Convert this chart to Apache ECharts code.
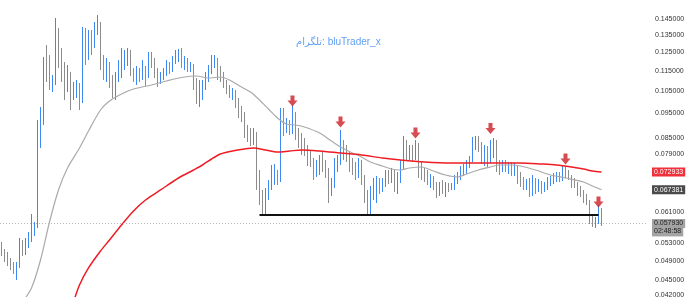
<!DOCTYPE html>
<html>
<head>
<meta charset="utf-8">
<script src="https://cdn.jsdelivr.net/npm/echarts@6/dist/echarts.min.js"></script>
<style>
html,body{margin:0;padding:0;background:#fff;}
#chart{width:690px;height:297px;}
</style>
</head>
<body>
<div id="chart"></div>
<script>
// ---- data ----
const slotCount = 216; // category slots (candles + empty right margin)
const categories = Array.from({length: slotCount}, (_, i) => String(i));

// [open, close, low, high]
const candles = [
[0.05258,0.05096,0.05005,0.05330],[0.05096,0.05005,0.04872,0.05164],[0.05005,0.04916,0.04785,0.05096],[0.04916,0.04785,0.04700,0.04960],
[0.04785,0.04700,0.04616,0.04872],[0.04700,0.04785,0.04494,0.04872],[0.04785,0.05258,0.04743,0.05426],[0.05258,0.05096,0.05005,0.05378],
[0.05096,0.05282,0.05027,0.05426],[0.05282,0.05426,0.05188,0.05574],[0.05426,0.05574,0.05330,0.06043],[0.05574,0.05726,0.05475,0.05830],
[0.05726,0.09011,0.05675,0.09215],[0.09011,0.09132,0.08126,0.09769],[0.09132,0.11690,0.09011,0.12227],[0.11690,0.11430,0.10929,0.12903],
[0.11430,0.10783,0.10543,0.12337],[0.10783,0.11027,0.10449,0.11277],[0.11027,0.13678,0.10783,0.14566],[0.13678,0.12337,0.11637,0.13926],
[0.12337,0.11533,0.10929,0.12731],[0.11533,0.11027,0.10080,0.11955],[0.11027,0.11277,0.10449,0.11795],[0.11277,0.10309,0.09638,0.11430],
[0.10309,0.10638,0.10080,0.10929],[0.10638,0.10783,0.10171,0.11027],[0.10783,0.10080,0.09638,0.10880],[0.10080,0.13495,0.09945,0.13989],
[0.13495,0.12903,0.11795,0.13926],[0.12903,0.13196,0.12063,0.13802],[0.13196,0.12903,0.12337,0.13802],[0.12903,0.13802,0.12731,0.14306],
[0.13802,0.14115,0.13495,0.14763],[0.14115,0.12063,0.11533,0.14306],[0.12063,0.11430,0.11027,0.12337],[0.11430,0.11637,0.10929,0.12172],
[0.11637,0.11027,0.10638,0.11955],[0.11027,0.10734,0.10171,0.11277],[0.10734,0.11126,0.10080,0.11430],[0.11126,0.11430,0.10929,0.12063],
[0.11430,0.11795,0.11126,0.12731],[0.11795,0.12172,0.11533,0.12617],[0.12172,0.12448,0.11742,0.12731],[0.12448,0.11430,0.11227,0.12617],
[0.11430,0.11126,0.10929,0.11637],[0.11126,0.11430,0.10783,0.11742],[0.11430,0.11227,0.10929,0.11637],[0.11227,0.11533,0.11027,0.12063],
[0.11533,0.11277,0.10734,0.11742],[0.11277,0.12227,0.11126,0.12504],[0.12227,0.12063,0.11637,0.12504],[0.12063,0.11430,0.11126,0.12172],
[0.11430,0.11027,0.10686,0.11637],[0.11027,0.11126,0.10831,0.11430],[0.11126,0.11430,0.11027,0.11637],[0.11430,0.11637,0.11227,0.12063],
[0.11637,0.11533,0.11328,0.11955],[0.11533,0.12063,0.11430,0.12282],[0.12063,0.12337,0.11848,0.12617],[0.12337,0.12504,0.11955,0.12674],
[0.12504,0.11848,0.11637,0.12731],[0.11848,0.11955,0.11533,0.12282],[0.11955,0.11637,0.11430,0.12172],[0.11637,0.11742,0.11430,0.11955],
[0.11742,0.10929,0.10543,0.11848],[0.10929,0.10263,0.09901,0.11126],[0.10263,0.10449,0.09769,0.11027],[0.10449,0.10734,0.10080,0.11027],
[0.10734,0.11126,0.10543,0.11430],[0.11126,0.11533,0.10929,0.11795],[0.11533,0.11955,0.11328,0.12337],[0.11955,0.12063,0.11637,0.12337],
[0.12063,0.11533,0.11027,0.12172],[0.11533,0.11227,0.10929,0.11742],[0.11227,0.10831,0.10638,0.11430],[0.10831,0.10638,0.10356,0.11027],
[0.10638,0.10356,0.10171,0.10783],[0.10356,0.10449,0.10080,0.10638],[0.10449,0.10080,0.09725,0.10543],[0.10080,0.09552,0.09298,0.10171],
[0.09552,0.09298,0.09132,0.09813],[0.09298,0.08811,0.08500,0.09552],[0.08811,0.08654,0.08348,0.09011],[0.08654,0.08424,0.08200,0.08890],
[0.08424,0.08654,0.08237,0.08890],[0.08654,0.07103,0.06731,0.08732],[0.07103,0.06552,0.06292,0.07363],[0.06552,0.06153,0.06016,0.06731],
[0.06153,0.06581,0.06016,0.06791],[0.06581,0.06852,0.06435,0.07039],[0.06852,0.07103,0.06731,0.07530],[0.07103,0.07167,0.06883,0.07564],
[0.07167,0.07039,0.06883,0.07363],[0.07039,0.09298,0.06976,0.09725],[0.09298,0.08890,0.08576,0.09725],[0.08890,0.09051,0.08693,0.09298],
[0.09051,0.08811,0.08615,0.09215],[0.08811,0.09424,0.08654,0.09857],[0.09424,0.08615,0.08424,0.09552],[0.08615,0.08500,0.08126,0.08890],
[0.08500,0.08237,0.07875,0.08693],[0.08237,0.08054,0.07840,0.08500],[0.08054,0.07770,0.07496,0.08237],[0.07770,0.07632,0.07463,0.08054],
[0.07632,0.07363,0.07039,0.07770],[0.07363,0.07496,0.07135,0.07701],[0.07496,0.07701,0.07199,0.07875],[0.07701,0.07530,0.07297,0.07982],
[0.07530,0.07297,0.07103,0.07701],[0.07297,0.06731,0.06349,0.07429],[0.06731,0.06883,0.06552,0.07103],[0.06883,0.07496,0.06791,0.07770],
[0.07496,0.07632,0.07297,0.07875],[0.07632,0.08237,0.07530,0.08811],[0.08237,0.07982,0.07701,0.08424],[0.07982,0.07770,0.07632,0.08237],
[0.07770,0.07632,0.07297,0.07982],[0.07632,0.07429,0.07199,0.07770],[0.07429,0.07297,0.07039,0.07632],[0.07297,0.07530,0.07103,0.07770],
[0.07530,0.07103,0.06883,0.07701],[0.07103,0.06581,0.06349,0.07199],[0.06581,0.06208,0.06016,0.06731],[0.06208,0.06670,0.06016,0.06852],
[0.06670,0.06914,0.06435,0.07103],[0.06914,0.07039,0.06349,0.07167],[0.07039,0.06791,0.06611,0.07103],[0.06791,0.06976,0.06670,0.07103],
[0.06976,0.07232,0.06822,0.07363],[0.07232,0.07167,0.06914,0.07363],[0.07167,0.07297,0.06945,0.07429],[0.07297,0.06976,0.06670,0.07363],
[0.06976,0.07103,0.06611,0.07297],[0.07103,0.07530,0.06945,0.07701],[0.07530,0.08126,0.07363,0.08576],[0.08126,0.07875,0.07701,0.08424],
[0.07875,0.08054,0.07701,0.08237],[0.08054,0.07840,0.07632,0.08237],[0.07840,0.08237,0.07701,0.08424],[0.08237,0.07429,0.07103,0.08311],
[0.07429,0.07297,0.07039,0.07632],[0.07297,0.07167,0.06976,0.07429],[0.07167,0.07039,0.06883,0.07363],[0.07039,0.07103,0.06791,0.07232],
[0.07103,0.06852,0.06731,0.07167],[0.06852,0.06670,0.06493,0.06976],[0.06670,0.06852,0.06552,0.06976],[0.06852,0.06731,0.06611,0.07039],
[0.06731,0.06852,0.06523,0.06976],[0.06852,0.06791,0.06670,0.06945],[0.06791,0.06852,0.06731,0.06945],[0.06852,0.07039,0.06731,0.07199],
[0.07039,0.07167,0.06914,0.07297],[0.07167,0.07297,0.07039,0.07496],[0.07297,0.07363,0.07167,0.07564],[0.07363,0.07564,0.07232,0.07701],
[0.07564,0.07701,0.07429,0.07840],[0.07701,0.08237,0.07632,0.08538],[0.08237,0.08424,0.08054,0.08576],[0.08424,0.08200,0.07982,0.08576],
[0.08200,0.07770,0.07564,0.08348],[0.07770,0.08054,0.07496,0.08237],[0.08054,0.07701,0.07429,0.08200],[0.07701,0.08237,0.07598,0.08424],
[0.08237,0.08348,0.07770,0.08500],[0.08348,0.07530,0.07297,0.08424],[0.07530,0.07429,0.07199,0.07701],[0.07429,0.07564,0.07297,0.07701],
[0.07564,0.07429,0.07297,0.07701],[0.07429,0.07496,0.07232,0.07632],[0.07496,0.07363,0.07167,0.07632],[0.07363,0.07429,0.07167,0.07598],
[0.07429,0.07103,0.06914,0.07496],[0.07103,0.06976,0.06822,0.07297],[0.06976,0.06852,0.06731,0.07135],[0.06852,0.06914,0.06731,0.07071],
[0.06914,0.06670,0.06523,0.07103],[0.06670,0.07039,0.06552,0.07199],[0.07039,0.06791,0.06611,0.07103],[0.06791,0.06914,0.06670,0.07071],
[0.06914,0.06791,0.06611,0.07008],[0.06791,0.06852,0.06670,0.06976],[0.06852,0.06976,0.06731,0.07135],[0.06976,0.07039,0.06852,0.07167],
[0.07039,0.07103,0.06914,0.07264],[0.07103,0.07167,0.06976,0.07297],[0.07167,0.07103,0.06976,0.07297],[0.07103,0.07363,0.07008,0.07496],
[0.07363,0.07232,0.07103,0.07496],[0.07232,0.07167,0.07039,0.07363],[0.07167,0.06976,0.06791,0.07199],[0.06976,0.06914,0.06791,0.07103],
[0.06914,0.06731,0.06552,0.06976],[0.06731,0.06670,0.06523,0.06852],[0.06670,0.06493,0.06349,0.06731],[0.06493,0.06378,0.06292,0.06611],
[0.06378,0.05883,0.05778,0.06435],[0.05883,0.05830,0.05701,0.05989],[0.05830,0.05883,0.05675,0.05962],[0.05883,0.06153,0.05778,0.06292],
[0.06153,0.05793,0.05726,0.06208]
];

// moving averages: [candle index, value]
const maFast = [
[7,0.04071],[10,0.04335],[13,0.04916],[16,0.05830],[19,0.06731],[22,0.07429],[26,0.08126],[29,0.08771],
[33,0.09638],[36,0.10035],[40,0.10356],[44,0.10591],[50,0.10783],[55,0.10978],[61,0.11176],[65,0.11227],
[69,0.11126],[73,0.11176],[76,0.11027],[80,0.10686],[83,0.10449],[86,0.10080],[89,0.09681],[92,0.09298],
[95,0.09051],[98,0.09011],[101,0.08930],[106,0.08693],[110,0.08386],[113,0.08163],[117,0.07946],[120,0.07805],
[123,0.07632],[127,0.07496],[130,0.07396],[133,0.07363],[136,0.07429],[140,0.07463],[144,0.07330],[148,0.07199],
[152,0.07135],[155,0.07232],[159,0.07363],[163,0.07463],[166,0.07530],[170,0.07530],[173,0.07496],[178,0.07363],
[183,0.07199],[188,0.07103],[194,0.06976],[197,0.06852],[200,0.067381]
];
const maSlow = [
[24,0.04071],[26,0.04394],[29,0.04743],[33,0.05118],[36,0.05378],[40,0.05752],[44,0.06125],[48,0.06435],
[53,0.06731],[59,0.07103],[64,0.07363],[67,0.07530],[70,0.07735],[73,0.07911],[77,0.08018],[81,0.08090],
[84,0.08126],[88,0.08054],[92,0.07982],[96,0.08018],[100,0.08054],[106,0.08018],[113,0.07946],[120,0.07875],
[127,0.07770],[133,0.07701],[141,0.07632],[150,0.07598],[158,0.07598],[166,0.07598],[173,0.07598],[180,0.07564],
[185,0.07530],[190,0.07463],[194,0.07396],[197,0.07330],[200,0.072933]
];
const maFastLast = 0.067381;
const maSlowLast = 0.072933;
const lastPrice = 0.05793;
const countdown = '02:48:58';

// red arrows above swing highs: [candle index, price]
const arrows = [[97,0.10035],[113,0.09132],[138,0.08693],[163,0.08870],[188,0.07735],[199,0.06378]];
// support line
const supportLine = [[86,0.06016],[199,0.06016]];

const yTicks = [0.145,0.135,0.125,0.115,0.105,0.095,0.085,0.079,0.061,0.053,0.049,0.045,0.042];
const watermark = 'تلگرام: bluTrader_x';

// ---- chart ----
const chart = echarts.init(document.getElementById('chart'), null, {renderer:'canvas'});
const fontFam = "'Liberation Sans', Roboto, 'DejaVu Sans', sans-serif";
const boxLabel = (text, bg, fg, extra) => Object.assign({
  show: true, position: 'end', distance: 4, formatter: text,
  backgroundColor: bg, color: fg, fontSize: 7, lineHeight: 8,
  padding: [1, 2, 0, 2], fontFamily: fontFam, opacity: 1
}, extra || {});
const hidden = {color: 'rgba(0,0,0,0)', width: 1};

chart.setOption({
  animation: false,
  backgroundColor: '#ffffff',
  title: {
    text: watermark, left: 291, top: 32,
    textStyle: {color: '#5f9ff5', fontSize: 10, fontWeight: 'normal', fontFamily: fontFam}
  },
  grid: {left: 0, right: 42, top: 0, bottom: 0, containLabel: false, outerBoundsMode: 'none'},
  xAxis: {
    type: 'category', data: categories, boundaryGap: true,
    axisLine: {show: false}, axisTick: {show: false}, axisLabel: {show: false}, splitLine: {show: false}
  },
  yAxis: {
    type: 'log', logBase: 10, position: 'right', min: 0.041637, max: 0.15791,
    axisLine: {show: false}, axisTick: {show: false}, splitLine: {show: false},
    axisLabel: {
      customValues: yTicks, formatter: v => Number(v).toFixed(6),
      fontSize: 7, color: '#333', margin: 7, fontFamily: fontFam
    }
  },
  series: [
    {
      type: 'candlestick', data: candles, barWidth: 1,
      itemStyle: {color: '#3d88f5', color0: '#8c8c8c', borderColor: '#3d88f5', borderColor0: '#8c8c8c', borderWidth: 1},
      markLine: {
        silent: true, symbol: ['none', 'none'], animation: false, precision: 6,
        data: [
          {yAxis: lastPrice, lineStyle: hidden,
           label: boxLabel(countdown, '#a3a3a3', '#1e1e1e', {verticalAlign: 'top', padding: [4, 2, 1, 2]})},
          {yAxis: lastPrice, lineStyle: {color: '#b8b8b8', type: [1, 2], width: 1},
           label: boxLabel(lastPrice.toFixed(6), '#a3a3a3', '#1e1e1e')},
          {yAxis: maFastLast, lineStyle: hidden,
           label: boxLabel(maFastLast.toFixed(6), '#4a4a4a', '#ffffff')},
          {yAxis: maSlowLast, lineStyle: hidden,
           label: boxLabel(maSlowLast.toFixed(6), '#f0303a', '#ffffff')}
        ]
      }
    },
    {
      type: 'line', data: maFast, showSymbol: false, symbol: 'none', smooth: 0.3, connectNulls: true,
      lineStyle: {color: '#aaaaaa', width: 1.2}, z: 3
    },
    {
      type: 'line', data: maSlow, showSymbol: false, symbol: 'none', smooth: 0.3, connectNulls: true,
      lineStyle: {color: '#ee1c25', width: 1.5}, z: 4
    },
    {
      type: 'line', data: supportLine, showSymbol: false, symbol: 'none',
      lineStyle: {color: '#111111', width: 2}, z: 5
    },
    {
      type: 'scatter', data: arrows, z: 6,
      symbol: 'path://M3,0H7V5H10L5,11L0,5H3Z', symbolSize: [10, 11],
      itemStyle: {color: '#cc1f28'}
    }
  ]
});
</script>
</body>
</html>
